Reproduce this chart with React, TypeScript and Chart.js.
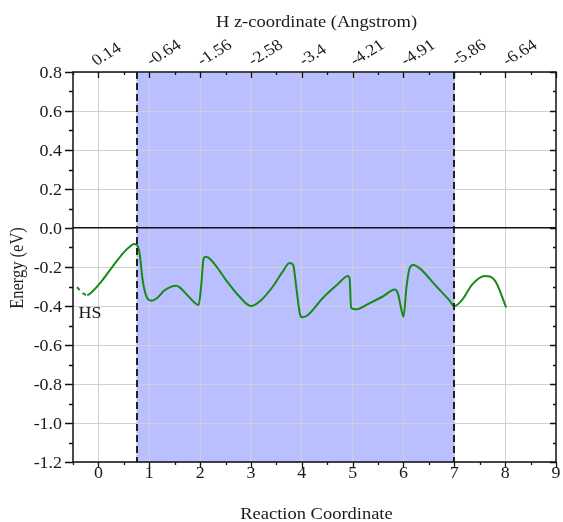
import React, { useEffect, useRef } from 'react';
import { Chart, registerables } from 'chart.js';

Chart.register(...registerables);

// ---- data ----
const reactionCoord = [-0.42, -0.33, -0.22, -0.11, 0.08, 0.3, 0.5, 0.62, 0.7, 0.75, 0.81, 0.87, 0.95, 1.04, 1.15, 1.3, 1.53, 1.75, 1.9, 1.97, 2.02, 2.07, 2.12, 2.3, 2.51, 2.75, 3.0, 3.2, 3.43, 3.62, 3.76, 3.83, 3.89, 3.96, 4.0, 4.1, 4.41, 4.7, 4.91, 4.94, 4.97, 5.07, 5.3, 5.6, 5.83, 5.89, 5.96, 6.0, 6.06, 6.12, 6.19, 6.32, 6.65, 6.9, 7.0, 7.15, 7.35, 7.6, 7.8, 8.02];
const energy = [-0.303, -0.33, -0.344, -0.323, -0.267, -0.19, -0.125, -0.095, -0.082, -0.085, -0.13, -0.267, -0.355, -0.373, -0.36, -0.32, -0.296, -0.345, -0.385, -0.395, -0.30, -0.155, -0.147, -0.19, -0.267, -0.345, -0.40, -0.37, -0.30, -0.225, -0.18, -0.19, -0.30, -0.437, -0.458, -0.45, -0.36, -0.29, -0.246, -0.258, -0.41, -0.417, -0.39, -0.35, -0.315, -0.335, -0.42, -0.455, -0.30, -0.207, -0.19, -0.207, -0.30, -0.37, -0.40, -0.37, -0.29, -0.246, -0.27, -0.407];
const bottomTickValues = [0, 1, 2, 3, 4, 5, 6, 7, 8, 9];
const topTickLabels = ['0.14', '-0.64', '-1.56', '-2.58', '-3.4', '-4.21', '-4.91', '-5.86', '-6.64'];
const yTickValues = [-1.2, -1.0, -0.8, -0.6, -0.4, -0.2, 0.0, 0.2, 0.4, 0.6, 0.8];
const shadeRange = [0.75, 7];
const dashedBreakX = -0.22;
const hsLabel = { text: 'HS', x: -0.39, y: -0.46 };
const xTitle = 'Reaction Coordinate';
const x2Title = 'H z-coordinate (Angstrom)';
const yTitle = 'Energy (eV)';

const xMin = -0.5;
const xMax = 9;
const yMin = -1.2;
const yMax = 0.8;

const FONT = 'Liberation Serif';
const SX = 1.12; // horizontal glyph stretch of the reference
const TEXT = '#1a1a1a';
const GRID = '#d0d0d0';
const SHADE = 'rgb(185,191,255)';
const GREEN = '#178a17';

function drawText(ctx: CanvasRenderingContext2D, text: string, x: number, y: number, size: number, align: CanvasTextAlign, rot = 0) {
  ctx.save();
  ctx.translate(x, y);
  ctx.scale(SX, 1);
  if (rot) ctx.rotate(rot);
  ctx.font = `${size}px ${FONT}`;
  ctx.fillStyle = TEXT;
  ctx.textAlign = align;
  ctx.textBaseline = 'alphabetic';
  ctx.fillText(text, 0, 0);
  ctx.restore();
}

const decorPlugin = {
  id: 'decor',
  beforeDraw(chart: any) {
    const { ctx, chartArea } = chart;
    const xs = chart.scales.x;
    const x0 = xs.getPixelForValue(shadeRange[0]);
    const x1 = xs.getPixelForValue(shadeRange[1]);
    ctx.save();
    ctx.fillStyle = SHADE;
    ctx.fillRect(x0, chartArea.top, x1 - x0, chartArea.bottom - chartArea.top);
    ctx.restore();
  },
  afterDraw(chart: any) {
    const { ctx, chartArea } = chart;
    const xs = chart.scales.x;
    const ys = chart.scales.y;
    const { left, right, top, bottom } = chartArea;
    ctx.save();
    // dashed boundaries
    ctx.strokeStyle = '#222';
    ctx.lineWidth = 2;
    ctx.setLineDash([7, 4]);
    for (const v of shadeRange) {
      const px = Math.round(xs.getPixelForValue(v));
      ctx.beginPath();
      ctx.moveTo(px, top);
      ctx.lineTo(px, bottom);
      ctx.stroke();
    }
    ctx.setLineDash([]);
    // frame
    ctx.strokeStyle = '#111';
    ctx.lineWidth = 1.5;
    ctx.strokeRect(left, top, right - left, bottom - top);
    // tick marks
    ctx.lineWidth = 1.3;
    for (let i = 0; i <= 19; i++) {
      const v = xMin + i * 0.5;
      const isMajor = Math.abs(v - Math.round(v)) < 1e-9;
      const len = isMajor ? 6 : 3;
      const px = Math.round(xs.getPixelForValue(v)) + 0.5;
      ctx.beginPath();
      ctx.moveTo(px, bottom);
      ctx.lineTo(px, bottom + len);
      ctx.moveTo(px, top);
      ctx.lineTo(px, top + len);
      ctx.stroke();
    }
    for (let i = 0; i <= 20; i++) {
      const v = yMin + i * 0.1;
      const isMajor = i % 2 === 0;
      const py = Math.round(ys.getPixelForValue(v)) + 0.5;
      ctx.beginPath();
      ctx.moveTo(left, py);
      ctx.lineTo(left - (isMajor ? 8 : 4), py);
      ctx.moveTo(right, py);
      ctx.lineTo(right - (isMajor ? 6 : 3), py);
      ctx.stroke();
    }
    ctx.restore();

    // tick labels
    for (const v of bottomTickValues) {
      drawText(ctx, String(v), xs.getPixelForValue(v), bottom + 16, 16, 'center');
    }
    topTickLabels.forEach((t, i) => {
      const px = xs.getPixelForValue(i) + (t.startsWith('-') ? 2 : -2);
      drawText(ctx, t, px, top - 6, 16, 'left', -34 * Math.PI / 180);
    });
    for (const v of yTickValues) {
      drawText(ctx, v.toFixed(1), left - 11, ys.getPixelForValue(v) + 6, 16, 'right');
    }
    // axis titles
    const cx = (left + right) / 2 + 2;
    const cy = (top + bottom) / 2 + 1;
    drawText(ctx, xTitle, cx, 519, 16.5, 'center');
    drawText(ctx, x2Title, cx, 27, 16.5, 'center');
    drawText(ctx, yTitle, 23, cy, 16.5, 'center', -Math.PI / 2);
    // annotation
    drawText(ctx, hsLabel.text, xs.getPixelForValue(hsLabel.x), ys.getPixelForValue(hsLabel.y), 16, 'left');
  },
};

export default function App() {
  const canvasRef = useRef<HTMLCanvasElement | null>(null);

  useEffect(() => {
    document.body.style.margin = '0';
    const canvas = canvasRef.current;
    if (!canvas) return;
    const points = reactionCoord.map((x, i) => ({ x, y: energy[i] }));
    const chart = new Chart(canvas, {
      type: 'line',
      data: {
        datasets: [
          {
            data: points,
            borderColor: GREEN,
            borderWidth: 2,
            pointRadius: 0,
            fill: false,
            cubicInterpolationMode: 'monotone',
            segment: {
              borderDash: (c: any) => (c.p1.parsed.x <= dashedBreakX + 1e-9 ? [4, 4] : undefined),
            },
          } as any,
        ],
      },
      plugins: [decorPlugin],
      options: {
        responsive: false,
        devicePixelRatio: 1,
        animation: false,
        layout: { padding: { left: 0, right: 7, top: 0, bottom: 0 } },
        plugins: { legend: { display: false }, tooltip: { enabled: false } },
        scales: {
          x: {
            type: 'linear',
            position: 'bottom',
            min: xMin,
            max: xMax,
            afterBuildTicks: (s: any) => { s.ticks = bottomTickValues.map((value) => ({ value })); },
            afterFit: (s: any) => { s.height = 60; },
            border: { display: false },
            grid: {
              drawTicks: false,
              color: (c: any) => {
                const v = c.tick ? c.tick.value : NaN;
                return v >= 0 && v <= 8 ? GRID : 'rgba(0,0,0,0)';
              },
            },
            ticks: { display: false },
          },
          x2: {
            type: 'linear',
            position: 'top',
            min: xMin,
            max: xMax,
            afterFit: (s: any) => { s.height = 72; },
            border: { display: false },
            grid: { display: false, drawTicks: false },
            ticks: { display: false },
          },
          y: {
            type: 'linear',
            min: yMin,
            max: yMax,
            afterBuildTicks: (s: any) => { s.ticks = yTickValues.map((value) => ({ value })); },
            afterFit: (s: any) => { s.width = 73; },
            border: { display: false },
            grid: {
              drawTicks: false,
              color: (c: any) => {
                const v = c.tick ? c.tick.value : NaN;
                return Math.abs(v) < 1e-9 ? '#111' : GRID;
              },
              lineWidth: (c: any) => {
                const v = c.tick ? c.tick.value : NaN;
                return Math.abs(v) < 1e-9 ? 1.5 : 1;
              },
            },
            ticks: { display: false },
          },
        },
      },
    });
    return () => chart.destroy();
  }, []);

  return <canvas ref={canvasRef} width={563} height={522} style={{ display: 'block' }} />;
}
